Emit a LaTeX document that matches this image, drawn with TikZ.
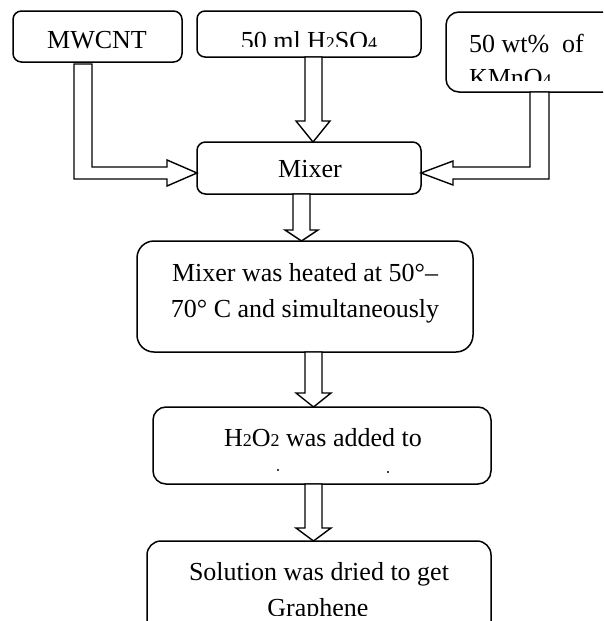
\documentclass[tikz,border=0pt]{standalone}
\usepackage{fontspec}
\setmainfont{Liberation Serif}
\newcommand\smdig[1]{{\fontsize{18}{18}\selectfont #1}}
\begin{document}
\begin{tikzpicture}[x=1pt,y=-1pt,
  box/.style={draw=black, line width=1.5pt, rounded corners=#1, outer sep=0pt, inner sep=0pt, fill=white},
  box/.default=9pt,
  txt/.style={inner sep=0pt, outer sep=0pt, font=\fontsize{26}{30}\selectfont},
  barrow/.style={draw=black, fill=white, line width=1.4pt, line join=miter}]
\useasboundingbox (0,0) rectangle (603,621);
\clip (0,0) rectangle (603,621);
% boxes
\node[box=8.5pt, minimum width=169pt, minimum height=51pt] (mwcnt) at (97.5,36.5) {};
\node[box=8pt, minimum width=224pt, minimum height=46pt] (h2so4) at (309,34) {};
\node[box=13pt, minimum width=174pt, minimum height=80pt] (kmno4) at (533,52) {};
\node[box=8.5pt, minimum width=224pt, minimum height=52pt] (mixer) at (309,168) {};
\node[box=17pt, minimum width=336pt, minimum height=111pt] (heat) at (305,296.5) {};
\node[box=13pt, minimum width=338pt, minimum height=77pt] (hooh) at (322,445.5) {};
\node[box=14pt, minimum width=344pt, minimum height=120pt] (dry) at (319,601) {};
% texts
\node[txt, anchor=base] (tmwcnt) at (97,48) {MWCNT};
\begin{scope}
\clip (197,11) rectangle (421,46);
\node[txt, anchor=base] (th2so4) at (309,49) {50 ml H\smdig{2}SO\smdig{4}};
\end{scope}
\node[txt, anchor=base west] (tkmno4a) at (469,52) {50 wt\%\ \ of};
\begin{scope}
\clip (446,60) rectangle (603,80);
\node[txt, anchor=base west] (tkmno4b) at (469,86) {KMnO\smdig{4}};
\end{scope}
\node[txt, anchor=base] (tmixer) at (310,177) {Mixer};
\node[txt, anchor=base] (theat1) at (305,281) {Mixer was heated at 50°–};
\node[txt, anchor=base] (theat2) at (305,317) {70° C and simultaneously};
\node[txt, anchor=base] (thooh) at (323,446) {H\smdig{2}O\smdig{2} was added to};
\fill (278,470) circle (1.2);
\fill (388,472) circle (1.2);
\node[txt, anchor=base] (tdry1) at (319,580) {Solution was dried to get};
\begin{scope}
\clip (150,590) rectangle (488,615);
\node[txt, anchor=base] (tdry2) at (318,616) {Graphene};
\end{scope}
% arrows
\draw[barrow] (74,64) -- (92,64) -- (92,167) -- (167,167) -- (167,160)
  -- (197,173 -| mixer.west) -- (167,186) -- (167,179) -- (74,179) -- cycle;
\draw[barrow] (549,0 |- kmno4.south) -- (530,0 |- kmno4.south) -- (530,167) -- (453,167) -- (453,161)
  -- (421,173 -| mixer.east) -- (453,185) -- (453,179) -- (549,179) -- cycle;
\draw[barrow] (305,0 |- h2so4.south) -- (322,0 |- h2so4.south) -- (322,121) -- (330,121)
  -- (313,0 |- mixer.north) -- (296,121) -- (305,121) -- cycle;
\draw[barrow] (293,0 |- mixer.south) -- (310,0 |- mixer.south) -- (310,230) -- (318,230)
  -- (301.5,0 |- heat.north) -- (285,230) -- (293,230) -- cycle;
\draw[barrow] (305,0 |- heat.south) -- (322,0 |- heat.south) -- (322,393) -- (331,393)
  -- (313.5,0 |- hooh.north) -- (296,393) -- (305,393) -- cycle;
\draw[barrow] (305,0 |- hooh.south) -- (322,0 |- hooh.south) -- (322,528) -- (331,528)
  -- (313.5,0 |- dry.north) -- (296,528) -- (305,528) -- cycle;
\end{tikzpicture}
\end{document}
